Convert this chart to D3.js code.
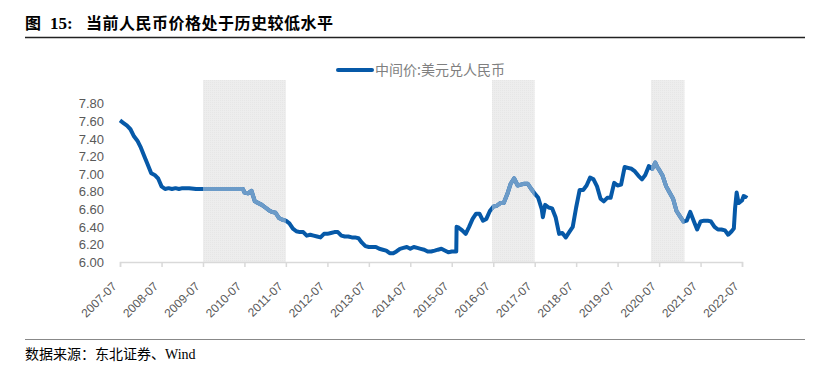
<!DOCTYPE html>
<html lang="zh">
<head>
<meta charset="UTF-8">
<title>当前人民币价格处于历史较低水平</title>
<script src="https://d3js.org/d3.v7.min.js"></script>
<style>
  body { margin: 0; background: #fff; }
  .tick text { fill: #595959; }
</style>
</head>
<body>
<svg id="chart" width="826" height="371"></svg>
<script>
// 中间价:美元兑人民币 (month start values)
const dates = [
  "2007-07-01","2007-08-01","2007-09-01","2007-10-01","2007-11-01","2007-12-01",
  "2008-01-01","2008-02-01","2008-03-01","2008-04-01","2008-05-01","2008-06-01",
  "2008-07-01","2008-08-01","2008-09-01","2008-10-01","2008-11-01","2008-12-01",
  "2009-01-01","2009-03-01","2009-05-01","2009-07-01","2009-09-01","2009-11-01",
  "2010-01-01","2010-03-01","2010-05-01","2010-06-18","2010-07-01","2010-08-01",
  "2010-09-01","2010-10-01","2010-11-01","2010-12-01",
  "2011-01-01","2011-02-01","2011-03-01","2011-04-01","2011-05-01","2011-06-01",
  "2011-07-01","2011-08-01","2011-09-01","2011-10-01","2011-11-01","2011-12-01",
  "2012-01-01","2012-02-01","2012-03-01","2012-04-01","2012-05-01","2012-06-01",
  "2012-07-01","2012-08-01","2012-09-01","2012-10-01","2012-11-01","2012-12-01",
  "2013-01-01","2013-02-01","2013-03-01","2013-04-01","2013-05-01","2013-06-01",
  "2013-07-01","2013-08-01","2013-09-01","2013-10-01","2013-11-01","2013-12-01",
  "2014-01-01","2014-02-01","2014-03-01","2014-04-01","2014-05-01","2014-06-01",
  "2014-07-01","2014-08-01","2014-09-01","2014-10-01","2014-11-01","2014-12-01",
  "2015-01-01","2015-02-01","2015-03-01","2015-04-01","2015-05-01","2015-06-01",
  "2015-07-01","2015-08-10","2015-08-13","2015-09-01","2015-10-01","2015-11-01",
  "2015-12-01","2016-01-01","2016-02-01","2016-03-01","2016-04-01","2016-05-01",
  "2016-06-01","2016-07-01","2016-08-01","2016-09-01","2016-10-01","2016-11-01",
  "2016-12-01","2017-01-01","2017-02-01","2017-03-01","2017-04-01","2017-05-01",
  "2017-06-01","2017-07-01","2017-08-01","2017-09-01","2017-09-11","2017-10-01",
  "2017-11-01","2017-12-01","2018-01-01","2018-02-01","2018-03-01","2018-04-01",
  "2018-05-01","2018-06-01","2018-07-01","2018-08-01","2018-09-01","2018-10-01",
  "2018-11-01","2018-12-01","2019-01-01","2019-02-01","2019-03-01","2019-04-01",
  "2019-05-01","2019-06-01","2019-07-01","2019-08-01","2019-09-01","2019-10-01",
  "2019-11-01","2019-12-01","2020-01-01","2020-02-01","2020-03-01","2020-04-01",
  "2020-05-01","2020-05-28","2020-06-15","2020-07-01","2020-08-01","2020-09-01",
  "2020-10-01","2020-11-01","2020-12-01","2021-01-01","2021-02-01","2021-03-01",
  "2021-04-01","2021-05-01","2021-06-01","2021-07-01","2021-08-01","2021-09-01",
  "2021-10-01","2021-11-01","2021-12-01","2022-01-01","2022-02-01","2022-03-01",
  "2022-04-01","2022-04-20","2022-05-01","2022-05-15","2022-06-01","2022-07-01",
  "2022-07-15","2022-08-01","2022-08-10"
];
const rates = [
  7.61, 7.58, 7.55, 7.51, 7.43, 7.38,
  7.30, 7.20, 7.11, 7.01, 6.99, 6.95,
  6.86, 6.83, 6.84, 6.83, 6.84, 6.83,
  6.84, 6.84, 6.83, 6.83, 6.83, 6.83,
  6.83, 6.83, 6.83, 6.83, 6.79, 6.78,
  6.81, 6.69, 6.67, 6.65,
  6.62, 6.59, 6.57, 6.56, 6.50, 6.48,
  6.47, 6.44, 6.38, 6.35, 6.34, 6.34,
  6.30, 6.31, 6.30, 6.29, 6.28, 6.32,
  6.32, 6.33, 6.34, 6.34, 6.30, 6.29,
  6.29, 6.28, 6.28, 6.27, 6.22, 6.18,
  6.17, 6.17, 6.17, 6.15, 6.14, 6.13,
  6.10, 6.10, 6.12, 6.15, 6.16, 6.17,
  6.15, 6.17, 6.16, 6.15, 6.14, 6.12,
  6.12, 6.13, 6.14, 6.15, 6.13, 6.11,
  6.12, 6.12, 6.40, 6.39, 6.36, 6.32,
  6.40, 6.49, 6.55, 6.55, 6.47, 6.49,
  6.58, 6.63, 6.64, 6.67, 6.67, 6.77,
  6.89, 6.95, 6.87, 6.88, 6.89, 6.89,
  6.83, 6.78, 6.73, 6.60, 6.51, 6.65,
  6.62, 6.61, 6.51, 6.32, 6.33, 6.28,
  6.34, 6.40, 6.62, 6.82, 6.82, 6.87,
  6.96, 6.94, 6.86, 6.72, 6.69, 6.73,
  6.73, 6.90, 6.87, 6.88, 7.08, 7.07,
  7.06, 7.03, 6.98, 6.94, 6.99, 7.09,
  7.06, 7.13, 7.08, 7.05, 6.98, 6.86,
  6.79, 6.72, 6.58, 6.52, 6.46, 6.47,
  6.57, 6.47, 6.37, 6.46, 6.47, 6.47,
  6.46, 6.40, 6.37, 6.37, 6.36, 6.31,
  6.35, 6.38, 6.61, 6.79, 6.67, 6.70,
  6.75, 6.74, 6.76
];

// shaded periods
const shadeStart = ["2009-07-01", "2016-06-20", "2020-04-20"];
const shadeEnd   = ["2011-07-01", "2017-07-01", "2021-02-10"];

const yTicks = [6.0, 6.2, 6.4, 6.6, 6.8, 7.0, 7.2, 7.4, 7.6, 7.8];
const xTickYears = d3.range(2007, 2023);

const parse = d3.timeParse("%Y-%m-%d");
const data = dates.map((d, i) => ({ date: parse(d), value: rates[i] }));
const shades = shadeStart.map((s, i) => ({ start: parse(s), end: parse(shadeEnd[i]) }));

const svg = d3.select("#chart");

// title
const title = svg.append("g")
  .attr("font-family", "'Noto Sans CJK SC', sans-serif")
  .attr("font-weight", "bold")
  .attr("font-size", 16)
  .attr("fill", "#000");
title.append("text").attr("x", 25).attr("y", 29).text("图");
title.append("text").attr("x", 50).attr("y", 29)
  .attr("font-family", "'Liberation Serif', serif").attr("font-size", 17).text("15:");
title.append("text").attr("x", 86).attr("y", 29).attr("letter-spacing", 0.5)
  .text("当前人民币价格处于历史较低水平");

svg.append("line")
  .attr("x1", 25).attr("x2", 805).attr("y1", 37.5).attr("y2", 37.5)
  .attr("stroke", "#222").attr("stroke-width", 1.3);

// scales
const x = d3.scaleTime()
  .domain([parse("2007-07-01"), parse("2022-07-01")])
  .range([120, 742]);

const y = d3.scaleLinear()
  .domain([6.0, 8.07])
  .range([262, 80]);

// shading
const defs = svg.append("defs");
const pat = defs.append("pattern")
  .attr("id", "dots").attr("width", 2).attr("height", 2)
  .attr("patternUnits", "userSpaceOnUse");
pat.append("rect").attr("width", 2).attr("height", 2).attr("fill", "#ededed");
pat.append("rect").attr("width", 1).attr("height", 1).attr("fill", "#e6e6e6");

svg.append("g").selectAll("rect")
  .data(shades)
  .join("rect")
  .attr("x", d => x(d.start))
  .attr("width", d => x(d.end) - x(d.start))
  .attr("y", y(8.07))
  .attr("height", y(6.0) - y(8.07))
  .attr("fill", "url(#dots)");

const clip = defs.append("clipPath").attr("id", "shadeClip");
clip.selectAll("rect")
  .data(shades)
  .join("rect")
  .attr("x", d => x(d.start))
  .attr("width", d => x(d.end) - x(d.start))
  .attr("y", 0)
  .attr("height", 371);

// y axis (labels only)
const yAxis = svg.append("g")
  .attr("transform", "translate(104,0)")
  .call(d3.axisLeft(y).tickValues(yTicks).tickFormat(d3.format(".2f")).tickSize(0).tickPadding(0));
yAxis.select(".domain").remove();
yAxis.selectAll("text")
  .attr("font-family", "'Liberation Sans', Arial, sans-serif")
  .attr("font-size", 13);

// x axis
const xAxis = svg.append("g")
  .attr("transform", "translate(0,262)")
  .call(d3.axisBottom(x)
    .tickValues(xTickYears.map(yr => parse(yr + "-07-01")))
    .tickFormat(d3.timeFormat("%Y-%m"))
    .tickSizeOuter(0)
    .tickSize(5));
xAxis.select(".domain").attr("stroke", "#d9d9d9").attr("stroke-width", 1.5);
xAxis.selectAll(".tick line").attr("stroke", "#d9d9d9").attr("stroke-width", 1.5);
xAxis.selectAll("text")
  .attr("font-family", "'Liberation Sans', Arial, sans-serif")
  .attr("font-size", 12)
  .attr("text-anchor", "end")
  .attr("y", 0)
  .attr("dy", 0)
  .attr("transform", "translate(-3,25) rotate(-45)");

// line
const line = d3.line()
  .x(d => x(d.date))
  .y(d => y(d.value));

svg.append("path")
  .datum(data)
  .attr("d", line)
  .attr("fill", "none")
  .attr("stroke", "#0659a8")
  .attr("stroke-width", 4)
  .attr("stroke-linejoin", "round");

svg.append("path")
  .datum(data)
  .attr("d", line)
  .attr("fill", "none")
  .attr("stroke", "#6c9bc8")
  .attr("stroke-width", 4)
  .attr("stroke-linejoin", "round")
  .attr("clip-path", "url(#shadeClip)");

// legend
svg.append("line")
  .attr("x1", 338).attr("x2", 372).attr("y1", 70).attr("y2", 70)
  .attr("stroke", "#0659a8").attr("stroke-width", 4).attr("stroke-linecap", "round");
svg.append("text")
  .attr("x", 375).attr("y", 75)
  .attr("font-family", "'Noto Sans CJK SC', sans-serif")
  .attr("font-size", 14)
  .attr("fill", "#7f7f7f")
  .text("中间价:美元兑人民币");

// footer
svg.append("line")
  .attr("x1", 25).attr("x2", 805).attr("y1", 339.5).attr("y2", 339.5)
  .attr("stroke", "#888").attr("stroke-width", 1);
const foot = svg.append("text")
  .attr("x", 25).attr("y", 359)
  .attr("font-family", "'Noto Sans CJK SC', serif")
  .attr("font-size", 14)
  .attr("fill", "#000");
foot.append("tspan").text("数据来源：东北证券、");
foot.append("tspan").attr("font-family", "'Liberation Serif', serif").text("Wind");
</script>
</body>
</html>
